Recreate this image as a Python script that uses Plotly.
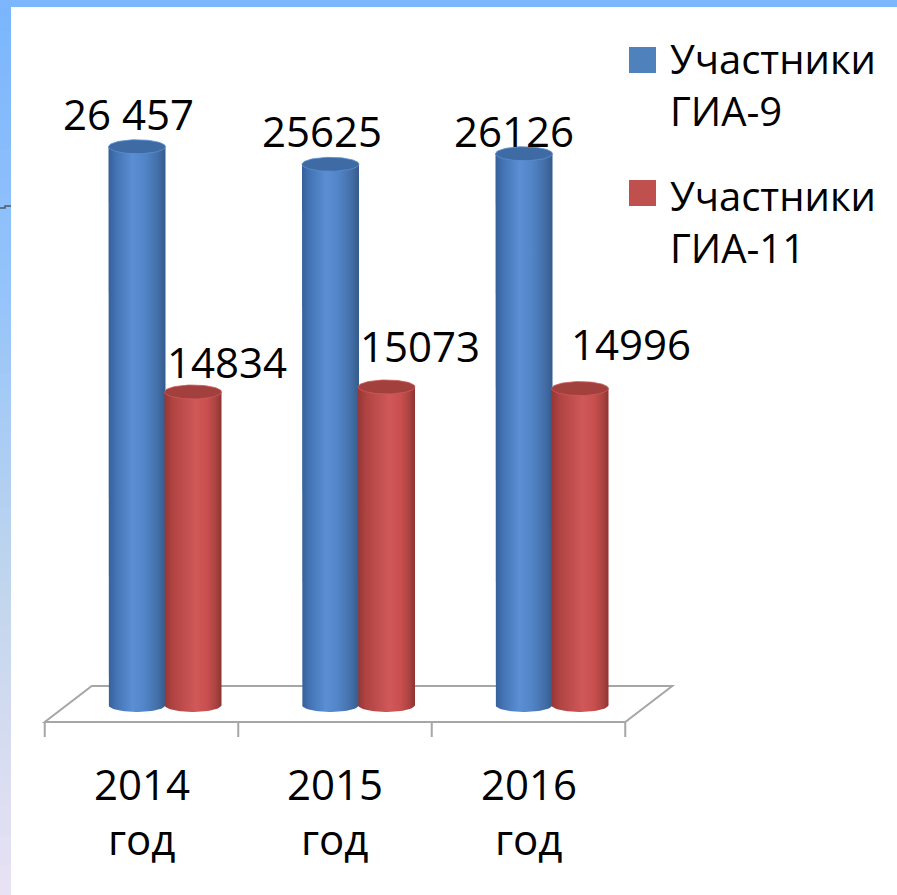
import numpy as np
import plotly.graph_objects as go

# ---------------- data ----------------
years = ["2014", "2015", "2016"]
year_word = "год"
series_names = ["Участники ГИА-9", "Участники ГИА-11"]
legend_lines = [["Участники", "ГИА-9"], ["Участники", "ГИА-11"]]
gia9 = [26457, 25625, 26126]
gia11 = [14834, 15073, 14996]
labels9 = ["26 457", "25625", "26126"]
labels11 = ["14834", "15073", "14996"]

# ---------------- styling / geometry ----------------
W, H = 897, 895
FONT = "Open Sans"
FS = 42
LEG_FS = 40
CAT_PX = 193.5          # pixels per category
Y_PX = 0.0211           # pixels per participant
ZERO_PX = 705           # pixel row of value 0
FRONT_CENTER0 = 141.5   # pixel column of first category (front edge)


def dx(px):
    return px / CAT_PX


def dy(px):
    return px / Y_PX


x_range = [(0 - FRONT_CENTER0) / CAT_PX, (W - FRONT_CENTER0) / CAT_PX]
y_range = [-(H - ZERO_PX) / Y_PX, ZERO_PX / Y_PX]

DEPTH_X, DEPTH_Y = 47, 36     # floor depth offset (px)
MID_X = DEPTH_X / 2
HALF_W = 28.5                  # cylinder half width (px)
SER_OFF = [-28, 28]            # series offset from pair center (px)
ELL_B = 7                      # ellipse semi-minor (px)

blue_scale = [[0, "#365f98"], [0.12, "#4272b2"], [0.42, "#5a8fd3"], [0.62, "#5386c8"],
              [0.85, "#4470aa"], [1, "#355b8c"]]
red_scale = [[0, "#963634"], [0.15, "#b04443"], [0.55, "#d05858"], [0.75, "#c84f4e"],
             [0.9, "#aa4341"], [1, "#8e3432"]]
cap_colors = ["#3f6ba4", "#a2403e"]
scales = [blue_scale, red_scale]
legend_colors = ["#4f81bd", "#c0504d"]

label_xshift = [[-9, -9, -10], [34, 33.5, 51]]
label_yshift = [[33, 34, 23], [31, 41, 45]]

fig = go.Figure()

t_bot = np.linspace(np.pi, 2 * np.pi, 40)
t_full = np.linspace(0, 2 * np.pi, 80)
hw = dx(HALF_W)
eb = dy(ELL_B)

for i in range(len(years)):
    for s, vals in enumerate([gia9, gia11]):
        v = vals[i]
        cx = i + dx(MID_X + SER_OFF[s])
        bx = [cx - hw, cx - hw] + list(cx + hw * np.cos(t_bot)) + [cx + hw, cx - hw]
        by = [v, 0] + list(eb * np.sin(t_bot)) + [v, v]
        fig.add_trace(go.Scatter(
            x=bx, y=by, mode="lines", fill="toself", line=dict(width=0),
            fillgradient=dict(type="horizontal", colorscale=scales[s]),
            hoverinfo="skip", showlegend=False))
        fig.add_trace(go.Scatter(
            x=list(cx + hw * np.cos(t_full)), y=list(v + eb * np.sin(t_full)),
            mode="lines", fill="toself", fillcolor=cap_colors[s],
            line=dict(width=0.8, color=scales[s][2][1]),
            hoverinfo="skip", showlegend=False))

# data labels
annotations = []
for s, (vals, labs) in enumerate([(gia9, labels9), (gia11, labels11)]):
    for i, v in enumerate(vals):
        cx = i + dx(MID_X + SER_OFF[s])
        annotations.append(dict(
            x=cx, y=v, xref="x", yref="y", text=labs[i], showarrow=False,
            xanchor="center", yanchor="middle",
            xshift=label_xshift[s][i], yshift=label_yshift[s][i],
            font=dict(family=FONT, size=FS, color="black")))

# category labels
for i, yr in enumerate(years):
    for line, ypx in [(yr, 783.7), (year_word, 838.7)]:
        annotations.append(dict(
            x=i, y=1 - ypx / H, xref="x", yref="paper", text=line, showarrow=False,
            xanchor="center", yanchor="middle",
            font=dict(family=FONT, size=FS, color="black")))

# legend
legend_y = [84.5, 221.5]
legend_sq = [(47, 73), (180, 206)]
shapes = []
for s in range(2):
    annotations.append(dict(
        x=668 / W, y=1 - legend_y[s] / H, xref="paper", yref="paper",
        text="<br>".join(legend_lines[s]), align="left",
        showarrow=False, xanchor="left", yanchor="middle",
        font=dict(family=FONT, size=LEG_FS, color="black")))
    y0, y1 = legend_sq[s]
    shapes.append(dict(type="rect", xref="paper", yref="paper",
                       x0=629 / W, x1=656 / W, y0=1 - y1 / H, y1=1 - y0 / H,
                       fillcolor=legend_colors[s], line=dict(width=0)))

# floor (3D base)
n = len(years)
fx0, fx1 = -0.5, n - 0.5
fy_front = dy(-(722 - ZERO_PX))
fy_back = fy_front + dy(DEPTH_Y)
ddx = dx(DEPTH_X)
floor_col = "#a6a6a6"
floor_path = (f"M {fx0},{fy_front} L {fx1},{fy_front} L {fx1 + ddx},{fy_back} "
              f"L {fx0 + ddx},{fy_back} Z")
shapes.append(dict(type="path", xref="x", yref="y", path=floor_path,
                   line=dict(color=floor_col, width=2), fillcolor="rgba(0,0,0,0)",
                   layer="below"))
for k in range(n + 1):
    xt = fx0 + k
    shapes.append(dict(type="line", xref="x", yref="y", x0=xt, x1=xt,
                       y0=fy_front, y1=fy_front - dy(15),
                       line=dict(color=floor_col, width=2), layer="below"))

# slide decoration: left gradient strip and top strip
stops_y = [0, 300, 600, 895]
stops_c = [(122, 181, 253), (150, 196, 250), (195, 214, 237), (233, 226, 244)]
N = 60
for k in range(N):
    ya, yb = k * H / N, (k + 1) * H / N
    ym = (ya + yb) / 2
    c = [int(round(np.interp(ym, stops_y, [sc[j] for sc in stops_c]))) for j in range(3)]
    shapes.append(dict(type="rect", xref="paper", yref="paper",
                       x0=0, x1=11 / W, y0=1 - yb / H - 0.001, y1=1 - ya / H,
                       fillcolor=f"rgb({c[0]},{c[1]},{c[2]})", line=dict(width=0),
                       layer="above"))
shapes.append(dict(type="rect", xref="paper", yref="paper", x0=0, x1=1,
                   y0=1 - 7 / H, y1=1, fillcolor="#7cb6fc", line=dict(width=0),
                   layer="above"))
shapes.append(dict(type="path", xref="paper", yref="paper",
                   path=f"M 0,{1 - 208 / H} L {5 / W},{1 - 208 / H} L {5 / W},{1 - 206 / H} L {11 / W},{1 - 206 / H}",
                   line=dict(color="#4d5b6b", width=1.5), layer="above"))

fig.update_layout(
    width=W, height=H, margin=dict(l=0, r=0, t=0, b=0, pad=0),
    paper_bgcolor="white", plot_bgcolor="white", showlegend=False,
    xaxis=dict(range=x_range, visible=False, fixedrange=True),
    yaxis=dict(range=y_range, visible=False, fixedrange=True),
    annotations=annotations, shapes=shapes,
)

fig.write_html("out.html", config={"displayModeBar": False},
               post_script="document.body.style.margin='0';document.body.style.overflow='hidden';")
